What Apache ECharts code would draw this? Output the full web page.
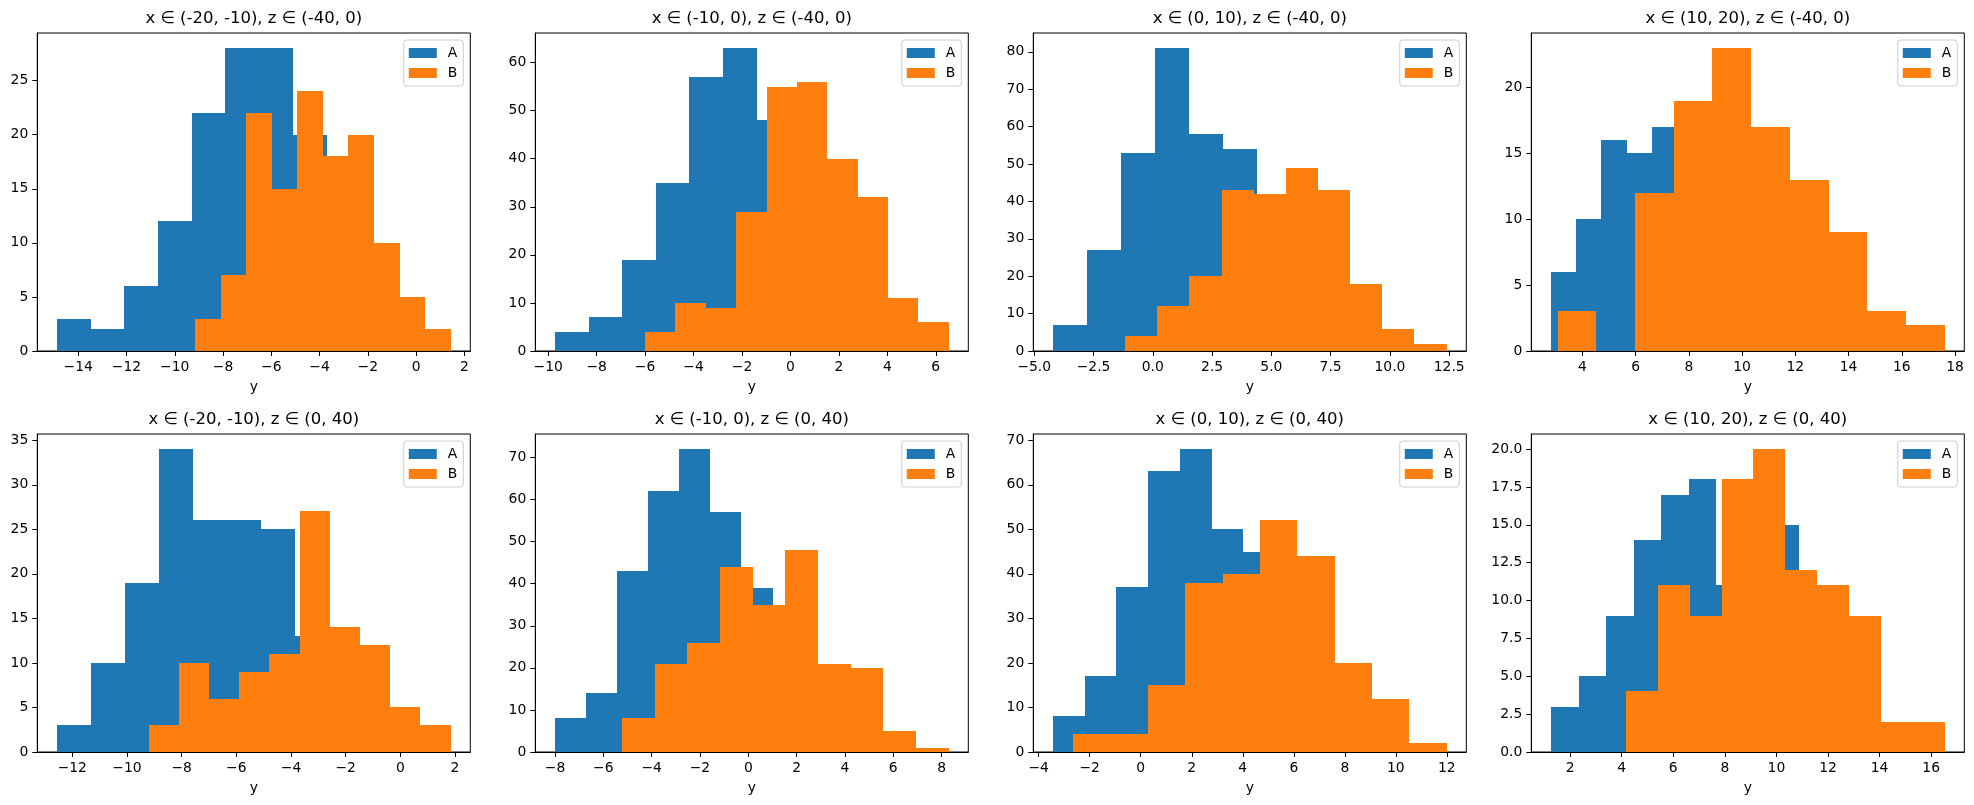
<!DOCTYPE html>
<html>
<head>
<meta charset="utf-8">
<script src="https://cdn.jsdelivr.net/npm/echarts@6/dist/echarts.min.js"></script>
<style>
  html, body { margin: 0; padding: 0; background: #fff; }
  #chart { width: 1974px; height: 805px; }
</style>
</head>
<body>
<div id="chart"></div>
<script>
// panel titles, row by row
const titles = [
  'x ∈ (-20, -10), z ∈ (-40, 0)',
  'x ∈ (-10, 0), z ∈ (-40, 0)',
  'x ∈ (0, 10), z ∈ (-40, 0)',
  'x ∈ (10, 20), z ∈ (-40, 0)',
  'x ∈ (-20, -10), z ∈ (0, 40)',
  'x ∈ (-10, 0), z ∈ (0, 40)',
  'x ∈ (0, 10), z ∈ (0, 40)',
  'x ∈ (10, 20), z ∈ (0, 40)'
];

// group A: first / last bin edge and the 10 bin counts
const aRange = [
  [-14.88, -0.92], [-9.72, 4.16], [-4.21, 10.15], [2.82, 12.31],
  [-12.56, -0.13], [-8.0, 4.86], [-3.44, 9.0], [1.26, 11.93]
];
const aCounts = [
  [3, 2, 6, 12, 22, 28, 28, 20, 11, 4],
  [4, 7, 19, 35, 57, 63, 48, 30, 14, 4],
  [7, 27, 53, 81, 58, 54, 28, 12, 4, 1],
  [6, 10, 16, 15, 17, 12, 9, 5, 3, 1],
  [3, 10, 19, 34, 26, 26, 25, 13, 7, 2],
  [8, 14, 43, 62, 72, 57, 39, 22, 9, 3],
  [8, 17, 37, 63, 68, 50, 45, 25, 10, 3],
  [3, 5, 9, 14, 17, 18, 11, 14, 15, 5]
];

// group B
const bRange = [
  [-9.16, 1.43], [-6.0, 6.53], [-1.17, 12.39], [3.07, 17.61],
  [-9.21, 1.84], [-5.23, 8.29], [-2.65, 11.99], [4.17, 16.52]
];
const bCounts = [
  [3, 7, 22, 15, 24, 18, 20, 10, 5, 2],
  [4, 10, 9, 29, 55, 56, 40, 32, 11, 6],
  [4, 12, 20, 43, 42, 49, 43, 18, 6, 2],
  [3, 0, 12, 19, 23, 17, 13, 9, 3, 2],
  [3, 10, 6, 9, 11, 27, 14, 12, 5, 3],
  [8, 21, 26, 44, 35, 48, 21, 20, 5, 1],
  [4, 4, 15, 38, 40, 52, 44, 20, 12, 2],
  [4, 11, 9, 18, 20, 12, 11, 9, 2, 2]
];

// tick values
const xTicks = [
  [-14, -12, -10, -8, -6, -4, -2, 0, 2],
  [-10, -8, -6, -4, -2, 0, 2, 4, 6],
  [-5, -2.5, 0, 2.5, 5, 7.5, 10, 12.5],
  [4, 6, 8, 10, 12, 14, 16, 18],
  [-12, -10, -8, -6, -4, -2, 0, 2],
  [-8, -6, -4, -2, 0, 2, 4, 6, 8],
  [-4, -2, 0, 2, 4, 6, 8, 10, 12],
  [2, 4, 6, 8, 10, 12, 14, 16]
];
const yTicks = [
  [0, 5, 10, 15, 20, 25],
  [0, 10, 20, 30, 40, 50, 60],
  [0, 10, 20, 30, 40, 50, 60, 70, 80],
  [0, 5, 10, 15, 20],
  [0, 5, 10, 15, 20, 25, 30, 35],
  [0, 10, 20, 30, 40, 50, 60, 70],
  [0, 10, 20, 30, 40, 50, 60, 70],
  [0, 2.5, 5, 7.5, 10, 12.5, 15, 17.5, 20]
];

const COLOR_A = '#1f77b4';
const COLOR_B = '#ff7f0e';
const FONT = 'DejaVu Sans';
const FS = 13.9;

// layout of the 2 x 4 panel grid (px)
const W = 1974;
const colLeft = [37.3, 535.3, 1033.3, 1531.3];
const rowTop = [33, 434];
const boxW = 433;
const boxH = 318;

function bins(range, counts) {
  const w = (range[1] - range[0]) / counts.length;
  return counts.map((c, k) => [range[0] + k * w, range[0] + (k + 1) * w, c]);
}

// tick label like matplotlib: unicode minus, shared decimals
function tickFormatter(ticks) {
  const dec = ticks.some(v => Math.round(v) !== v) ? 1 : 0;
  return v => v.toFixed(dec).replace('-', '\u2212');
}

function renderBar(params, api) {
  const p0 = api.coord([api.value(0), 0]);
  const p1 = api.coord([api.value(1), api.value(2)]);
  const x0 = Math.round(p0[0]), x1 = Math.round(p1[0]);
  const y0 = Math.round(p0[1]), y1 = Math.round(p1[1]);
  return {
    type: 'rect',
    shape: { x: x0, y: y1, width: x1 - x0, height: y0 - y1 },
    style: { fill: api.visual('color') }
  };
}

const grids = [], xAxes = [], yAxes = [], series = [], legends = [], titleOpts = [];

titles.forEach((t, i) => {
  const row = Math.floor(i / 4), col = i % 4;
  const left = colLeft[col], top = rowTop[row];

  const lo = Math.min(aRange[i][0], bRange[i][0]);
  const hi = Math.max(aRange[i][1], bRange[i][1]);
  const pad = (hi - lo) * 0.05;
  const yMax = Math.max(...aCounts[i], ...bCounts[i]) * 1.05;

  grids.push({
    left, top, width: boxW, height: boxH,
    show: true, borderColor: '#000', borderWidth: 1,
    backgroundColor: 'transparent', outerBoundsMode: 'none'
  });

  titleOpts.push({
    text: t,
    left: left + boxW / 2,
    top: top - 23,
    textAlign: 'center',
    padding: 0,
    textStyle: { fontFamily: FONT, fontSize: 16.5, fontWeight: 'normal', color: '#000' }
  });

  xAxes.push({
    gridIndex: i, type: 'value', min: lo - pad, max: hi + pad,
    name: 'y', nameLocation: 'middle', nameGap: 29,
    nameTextStyle: { fontFamily: FONT, fontSize: FS, color: '#000' },
    axisLine: { show: true, onZero: false, lineStyle: { color: '#000', width: 1 } },
    axisTick: { show: true, inside: false, length: 5, customValues: xTicks[i], lineStyle: { color: '#000' } },
    axisLabel: { customValues: xTicks[i], formatter: tickFormatter(xTicks[i]),
      fontFamily: FONT, fontSize: FS, color: '#000', margin: 9 },
    splitLine: { show: false }
  });

  yAxes.push({
    gridIndex: i, type: 'value', min: 0, max: yMax,
    axisLine: { show: true, onZero: false, lineStyle: { color: '#000', width: 1 } },
    axisTick: { show: true, inside: false, length: 5, customValues: yTicks[i], lineStyle: { color: '#000' } },
    axisLabel: { customValues: yTicks[i], formatter: tickFormatter(yTicks[i]),
      fontFamily: FONT, fontSize: FS, color: '#000', margin: 9 },
    splitLine: { show: false }
  });

  series.push({
    type: 'custom', name: 'A', xAxisIndex: i, yAxisIndex: i,
    itemStyle: { color: COLOR_A }, renderItem: renderBar,
    encode: { x: [0, 1], y: 2 }, data: bins(aRange[i], aCounts[i]), silent: true
  });
  series.push({
    type: 'custom', name: 'B', xAxisIndex: i, yAxisIndex: i,
    itemStyle: { color: COLOR_B }, renderItem: renderBar,
    encode: { x: [0, 1], y: 2 }, data: bins(bRange[i], bCounts[i]), silent: true
  });

  legends.push({
    data: ['A', 'B'], orient: 'vertical',
    right: W - (left + boxW - 7), top: top + 7,
    icon: 'rect', itemWidth: 28, itemHeight: 10, itemGap: 6,
    backgroundColor: 'rgba(255,255,255,0.8)', borderColor: '#cccccc', borderWidth: 1, borderRadius: 3,
    padding: [6, 6, 6, 5], selectedMode: false,
    textStyle: { fontFamily: FONT, fontSize: FS, color: '#000', padding: [0, 0, 0, 6] }
  });
});

const chart = echarts.init(document.getElementById('chart'));
chart.setOption({
  animation: false,
  backgroundColor: '#fff',
  title: titleOpts,
  grid: grids,
  xAxis: xAxes,
  yAxis: yAxes,
  legend: legends,
  series
});
</script>
</body>
</html>
